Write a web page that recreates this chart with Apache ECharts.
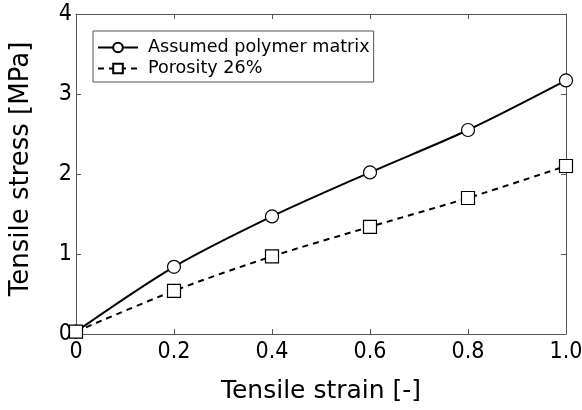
<!DOCTYPE html>
<html>
<head>
<meta charset="utf-8">
<script src="https://cdn.jsdelivr.net/npm/echarts@6/dist/echarts.min.js"></script>
<style>html,body{margin:0;padding:0;background:#fff;}#c{width:582px;height:410px;}</style>
</head>
<body>
<div id="c"></div>
<script>
var strain = [0, 0.2, 0.4, 0.6, 0.8, 1.0];
var polymerStress = [0.03, 0.84, 1.47, 2.02, 2.55, 3.17];
var porosityStress = [0.03, 0.54, 0.97, 1.34, 1.70, 2.10];
var xTickLabels = {0: '0', 0.2: '0.2', 0.4: '0.4', 0.6: '0.6', 0.8: '0.8', 1: '1.0'};
var seriesNames = ['Assumed polymer matrix', 'Porosity 26%'];

function pairs(xs, ys) { return xs.map(function (x, i) { return [x, ys[i]]; }); }

var titleFont = '"DejaVu Sans", sans-serif';
var tickFont = '"DejaVu Sans Condensed", sans-serif';
function axisCommon() {
  return {
    type: 'value',
    axisLine: { show: true, onZero: false, lineStyle: { color: '#555', width: 1 } },
    axisTick: { show: true, inside: true, length: 5, lineStyle: { color: '#555' } },
    splitLine: { show: false }
  };
}

var chart = echarts.init(document.getElementById('c'), null, { renderer: 'canvas' });
chart.setOption({
  animation: false,
  backgroundColor: '#fff',
  grid: { left: 76, right: 16, top: 14, bottom: 76, containLabel: false, outerBoundsMode: 'none' },
  legend: {
    orient: 'vertical', left: 93, top: 31,
    padding: [6, 4, 3, 4],
    itemGap: 0,
    itemWidth: 40, itemHeight: 12,
    borderColor: '#555', borderWidth: 1,
    backgroundColor: '#fff',
    textStyle: { fontFamily: titleFont, fontSize: 17.6, lineHeight: 21, color: '#000', padding: [0, 0, 0, 5] },
    data: seriesNames
  },
  xAxis: [
    Object.assign(axisCommon(), {
      min: 0, max: 1, interval: 0.2, position: 'bottom',
      name: 'Tensile strain [-]', nameLocation: 'middle', nameGap: 45,
      nameTextStyle: { fontFamily: titleFont, fontSize: 25, color: '#000' },
      axisLabel: { fontFamily: tickFont, fontSize: 23, color: '#000', margin: 7,
        formatter: function (v) { return xTickLabels[Math.round(v * 10) / 10]; } }
    }),
    Object.assign(axisCommon(), {
      min: 0, max: 1, interval: 0.2, position: 'top', axisLabel: { show: false }
    })
  ],
  yAxis: [
    Object.assign(axisCommon(), {
      min: 0, max: 4, interval: 1, position: 'left',
      name: 'Tensile stress [MPa]', nameLocation: 'middle', nameGap: 42,
      nameTextStyle: { fontFamily: titleFont, fontSize: 26, color: '#000', padding: [0, 0, 0, 10] },
      axisLabel: { fontFamily: tickFont, fontSize: 23, color: '#000', margin: 4 }
    }),
    Object.assign(axisCommon(), {
      min: 0, max: 4, interval: 1, position: 'right', axisLabel: { show: false }
    })
  ],
  series: [
    {
      name: seriesNames[0], type: 'line', smooth: 0.3,
      data: pairs(strain, polymerStress),
      symbol: 'circle', symbolSize: 13,
      itemStyle: { color: '#fff', borderColor: '#000', borderWidth: 1.2 },
      lineStyle: { color: '#000', width: 2, type: 'solid' },
      z: 3
    },
    {
      name: seriesNames[1], type: 'line', smooth: 0.3,
      data: pairs(strain, porosityStress),
      symbol: 'rect', symbolSize: 13,
      itemStyle: { color: '#fff', borderColor: '#000', borderWidth: 1.2 },
      lineStyle: { color: '#000', width: 2, type: [6, 5] },
      z: 3
    }
  ]
});
</script>
</body>
</html>
